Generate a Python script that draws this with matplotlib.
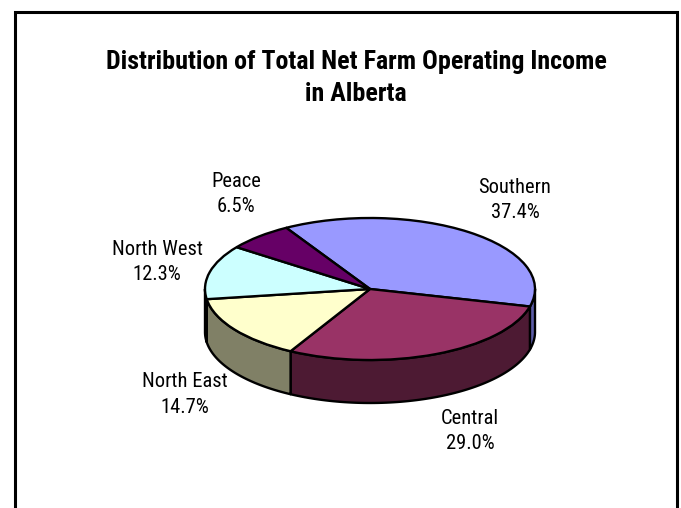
import numpy as np
import matplotlib
matplotlib.use("Agg")
import matplotlib.pyplot as plt
from matplotlib.patches import Wedge, Polygon, Rectangle
from matplotlib.transforms import Affine2D
from matplotlib import font_manager

# ---- data ----
regions = ["Southern", "Central", "North East", "North West", "Peace"]
shares = [37.4, 29.0, 14.7, 12.3, 6.5]
top_colors = ["#9999FF", "#993366", "#FFFFCC", "#CCFFFF", "#660066"]
side_colors = ["#5C5CA8", "#4D1A33", "#808066", "#668080", "#330033"]
title = "Distribution of Total Net Farm Operating Income\nin Alberta"

# ---- fonts ----
names = {f.name for f in font_manager.fontManager.ttflist}
fam = [n for n in ["Roboto Condensed", "PT Sans Narrow", "Archivo Narrow",
                   "Liberation Sans", "DejaVu Sans"] if n in names]
plt.rcParams["font.family"] = fam

W, H = 681, 508
fig = plt.figure(figsize=(W / 100, H / 100), dpi=100)
ax = fig.add_axes([0, 0, 1, 1])
ax.set_xlim(0, W)
ax.set_ylim(0, H)
ax.axis("off")

# pie geometry (pixels, y up)
cx, cy = 370, H - 289
a, b, depth = 165, 71, 43
start = 120.5

fr = np.array(shares) / np.sum(shares)
ends = start - 360 * np.cumsum(fr)
starts = np.concatenate([[start], ends[:-1]])

ell = Affine2D().scale(a, b).translate(cx, cy) + ax.transData

# sides (front half only)
for i in range(len(shares)):
    hi, lo = starts[i], ends[i]
    for off in (0, -360):
        s0 = max(lo, -180 + off)
        s1 = min(hi, 0 + off)
        if s1 - s0 <= 0:
            continue
        t = np.radians(np.linspace(s0, s1, 80))
        xs = cx + a * np.cos(t)
        ys = cy + b * np.sin(t)
        pts = np.concatenate([np.column_stack([xs, ys]),
                              np.column_stack([xs[::-1], ys[::-1] - depth])])
        ax.add_patch(Polygon(pts, closed=True, facecolor=side_colors[i],
                             edgecolor="black", lw=1.7, joinstyle="round", zorder=2))

# top faces
for i in range(len(shares)):
    w = Wedge((0, 0), 1, ends[i], starts[i], transform=ell,
              facecolor=top_colors[i], edgecolor="black", lw=1.7, zorder=3)
    ax.add_patch(w)

# labels
label_pos = [(515, 200), (470, 431), (185, 394.5), (157, 262), (236, 194)]
for i, (x, y) in enumerate(label_pos):
    ax.text(x, H - y, f"{regions[i]}\n{shares[i]:.1f}%", ha="center", va="center",
            fontsize=14.8, linespacing=1.45, color="black", zorder=5)

ax.text(356, H - 78, title, ha="center", va="center", fontsize=18.7,
        fontweight="bold", linespacing=1.38, zorder=5)

# frame
ax.add_patch(Rectangle((15, -20), 662, H - 12 + 20, facecolor="none",
                       edgecolor="black", lw=2.2, zorder=6))

fig.savefig("out.png", dpi=100)
